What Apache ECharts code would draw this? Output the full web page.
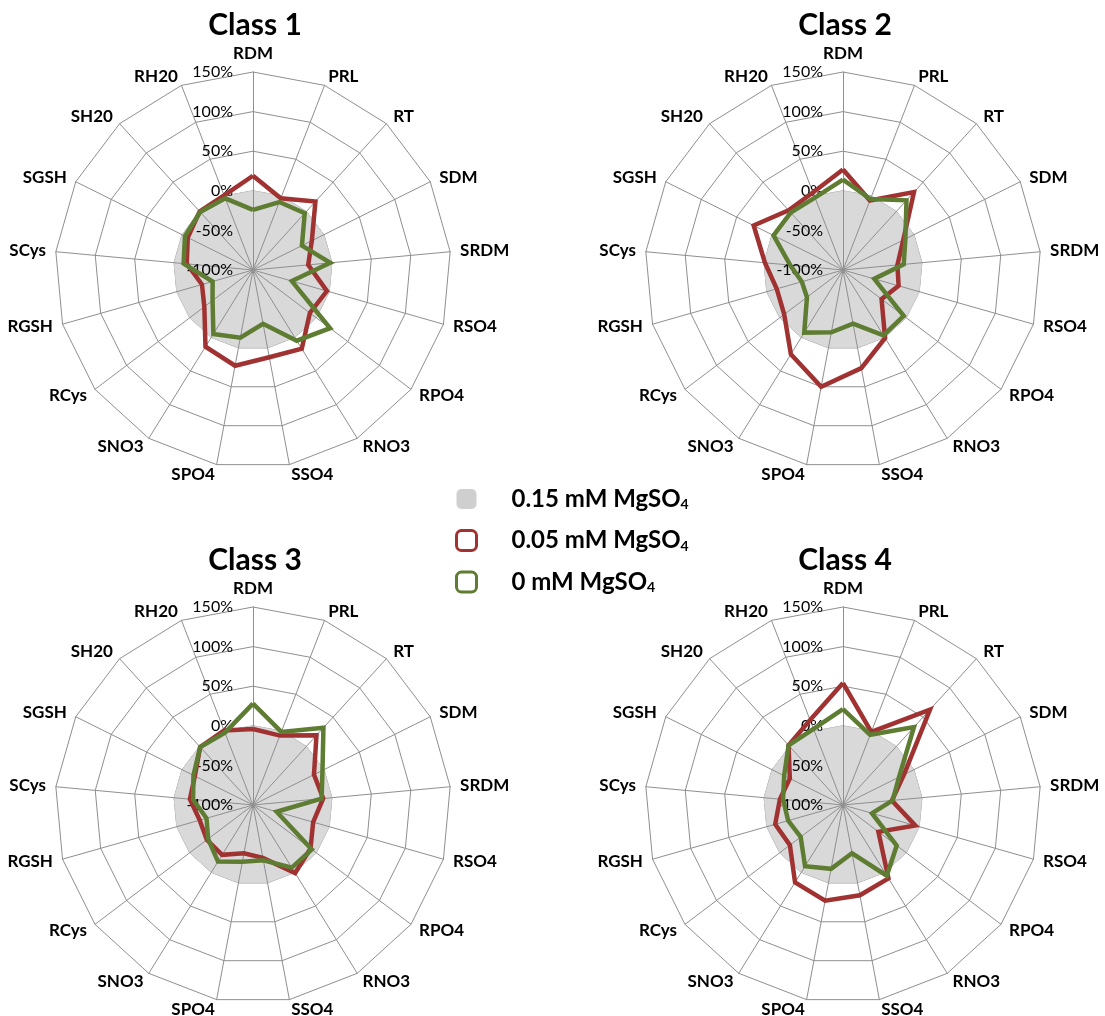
<!DOCTYPE html>
<html>
<head>
<meta charset="utf-8">
<script src="https://cdn.jsdelivr.net/npm/echarts@6/dist/echarts.min.js"></script>
<style>
  html, body { margin: 0; padding: 0; background: #fff; }
  #chart { width: 1105px; height: 1016px; }
</style>
</head>
<body>
<div id="chart"></div>
<script>
// ---- data ----
const indicators = ['RDM','PRL','RT','SDM','SRDM','RSO4','RPO4','RNO3','SSO4','SPO4','SNO3','RCys','RGSH','SCys','SGSH','SH20','RH20'];
const axisMin = -100;
const axisMax = 150;
const axisInterval = 50;
const classTitles = ['Class 1', 'Class 2', 'Class 3', 'Class 4'];
const seriesNames = ['0.15 mM MgSO4', '0.05 mM MgSO4', '0 mM MgSO4'];

// 0.15 mM MgSO4 (reference level, 0 %)
const ctrl_015 = [0,0,0,0,0,0,0,0,0,0,0,0,0,0,0,0,0];

// Class 1
const c1_005 = [19, -3, 17, -17, -30, -3, -10, 17, 12, 23, 14, -23, -33, -16, -8, 0, 1];
const c1_0   = [-24, -8, -3, -31, -2, -49, 22, 5, -31, -13, -5, -36, -47, -12, -4, -1, -3];
// Class 2
const c2_005 = [27, -6, 33, -15, -31, -27, -39, 1, 26, 50, 25, -7, -13, -1, 26, 2, 5];
const c2_0   = [14, -4, 19, -12, -23, -59, -4, -3, -31, -20, -7, -43, -46, -33, -2, -2, -2];
// Class 3
const c3_005 = [-4, -6, 19, -14, -11, -21, -9, 1, -32, -38, -26, -27, -30, -20, -18, -1, 1];
const c3_0   = [28, -1, 32, -2, -13, -69, -7, -7, -29, -27, -16, -29, -39, -24, -16, -1, -2];
// Class 4
const c4_005 = [54, -1, 63, -14, -38, -5, -44, 9, 16, 23, 15, -16, -11, -20, -25, 2, 15];
const c4_0   = [21, -5, 33, -21, -37, -62, -15, 5, -38, -18, -9, -33, -28, -24, -17, 2, 3];

const classData = [[c1_005, c1_0], [c2_005, c2_0], [c3_005, c3_0], [c4_005, c4_0]];

// ECharts radar runs counter-clockwise; reorder so the chart reads clockwise
function cw(arr) { return [arr[0]].concat(arr.slice(1).reverse()); }

// ---- style / layout ----
const FONT = 'Lato, "Open Sans", sans-serif';
const GRID = '#8f8f8f';
const RED = '#a03232';
const GREEN = '#5f7d32';
const GREYFILL = '#d9d9d9';
const centers = [[253, 270], [843, 270], [253, 805], [843, 805]];
const titleTops = [5, 5, 540, 540];
const RADIUS = 198;

const chart = echarts.init(document.getElementById('chart'), null, { renderer: 'canvas' });

const radars = [];
const series = [];
const titles = [];
const indCW = cw(indicators);

centers.forEach((c, k) => {
  radars.push({
    center: c, radius: RADIUS, startAngle: 90, shape: 'polygon', splitNumber: 5,
    z: 0,
    indicator: indCW.map(n => ({ name: n, min: axisMin, max: axisMax })),
    axisName: { show: false },
    axisLine: { show: false },
    splitLine: { show: true, lineStyle: { color: GRID, width: 1 } },
    splitArea: { show: false },
    axisLabel: { show: false }
  });
  radars.push({
    center: c, radius: RADIUS, startAngle: 90, shape: 'polygon', splitNumber: 5,
    z: 3,
    nameGap: 10,
    indicator: indCW.map((n, i) => {
      const o = { name: n, min: axisMin, max: axisMax };
      if (i === 0) o.axisLabel = { show: true };
      return o;
    }),
    axisName: { color: '#000', fontWeight: 'bold', fontSize: 17, fontFamily: FONT },
    axisLine: { show: true, lineStyle: { color: GRID, width: 1 } },
    splitLine: { show: false },
    splitArea: { show: false },
    axisTick: { show: false },
    axisLabel: { show: false, formatter: '{value}%', color: '#000', fontSize: 16, fontFamily: FONT, margin: 20 }
  });
  const ri = k * 2;
  series.push({
    type: 'radar', radarIndex: ri, name: seriesNames[0], z: 2, symbol: 'none', silent: true,
    lineStyle: { color: '#c4c4c4', width: 1 },
    areaStyle: { color: GREYFILL, opacity: 1 },
    itemStyle: { color: '#cfcfcf' },
    data: [{ value: cw(ctrl_015), name: seriesNames[0] }]
  });
  series.push({
    type: 'radar', radarIndex: ri, name: seriesNames[1], z: 4, symbol: 'none', silent: true,
    lineStyle: { color: RED, width: 4.5, join: 'miter' },
    itemStyle: { color: RED },
    data: [{ value: cw(classData[k][0]), name: seriesNames[1] }]
  });
  series.push({
    type: 'radar', radarIndex: ri, name: seriesNames[2], z: 5, symbol: 'none', silent: true,
    lineStyle: { color: GREEN, width: 4.5, join: 'miter' },
    itemStyle: { color: GREEN },
    data: [{ value: cw(classData[k][1]), name: seriesNames[2] }]
  });
  titles.push({
    text: classTitles[k], left: c[0] - 3, top: titleTops[k], textAlign: 'center',
    textStyle: { fontSize: 30, fontWeight: 'bold', color: '#000', fontFamily: FONT }
  });
});

const option = {
  backgroundColor: '#fff',
  animation: false,
  title: titles,
  radar: radars,
  legend: {
    orient: 'vertical', left: 450, top: 482,
    itemWidth: 20, itemHeight: 20, itemGap: 17,
    icon: 'roundRect',
    selectedMode: false,
    data: [
      { name: seriesNames[0], itemStyle: { color: '#cfcfcf', borderWidth: 0 } },
      { name: seriesNames[1], itemStyle: { color: '#ffffff', borderColor: RED, borderWidth: 3 } },
      { name: seriesNames[2], itemStyle: { color: '#ffffff', borderColor: GREEN, borderWidth: 3 } }
    ],
    formatter: function (name) {
      return '{sp|}{t|' + name.replace(/MgSO4$/, 'MgSO') + '}{s|4}';
    },
    textStyle: {
      rich: {
        sp: { width: 30 },
        t: { fontSize: 24, fontWeight: 'bold', color: '#000', fontFamily: FONT, lineHeight: 25 },
        s: { fontSize: 14, fontWeight: 'bold', color: '#000', fontFamily: FONT, verticalAlign: 'bottom', lineHeight: 14, padding: [10, 0, 0, 0] }
      }
    }
  },
  series: series
};

chart.setOption(option);
</script>
</body>
</html>
